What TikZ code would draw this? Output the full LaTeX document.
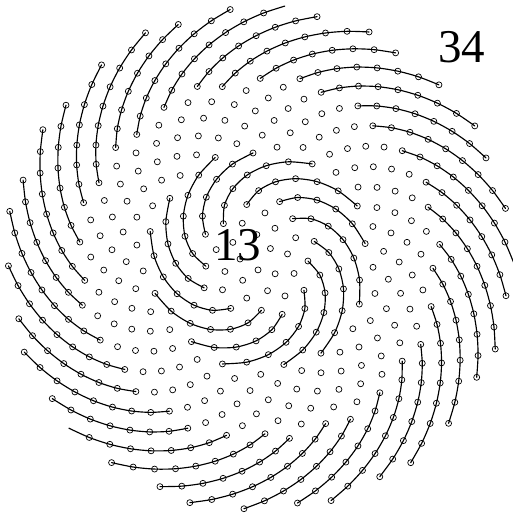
\documentclass[tikz,border=0pt]{standalone}
\usepackage{fontspec}
\setmainfont{Liberation Serif}
\usetikzlibrary{positioning}
\tikzset{
  seed/.style={circle, draw=black, line width=0.7pt, inner sep=0pt, minimum size=6pt},
  parastichy/.style={draw=black, line width=1.15pt, line cap=round},
  countlabel/.style={inner sep=0pt, font=\fontsize{47}{50}\selectfont},
}
% spiral parameters
\def\spc{10.95}     % spacing factor
\def\sphi{127.5}    % start angle
\def\nseeds{538}
\def\ncurve{541}

\begin{document}
\begin{tikzpicture}[x=1pt,y=1pt]
  \useasboundingbox (-259,-256) rectangle (254,259);
  % seeds (the last few only carry the curves)
  \foreach \n in {1,...,\ncurve}{
    \edef\px{\fpeval{\spc*sqrt(\n)*cosd(\sphi+\n*137.5077640500378)}}
    \edef\py{\fpeval{\spc*sqrt(\n)*sind(\sphi+\n*137.5077640500378)}}
    \ifnum\n>\nseeds
      \coordinate (p\n) at (\px,\py);
    \else
      \node[seed] (p\n) at (\px,\py) {};
    \fi
  }
  % inner 13 spirals
  \foreach \k in {0,...,12}{
    \pgfmathtruncatemacro\sa{20+\k}
    \pgfmathtruncatemacro\sb{33+\k}
    \gdef\pts{}
    \foreach \j in {\sa,\sb,...,106}{\xdef\pts{\pts (p\j)}}
    \edef\cmd{\noexpand\draw[parastichy] plot[smooth] coordinates {\pts};}
    \cmd
  }
  % outer 34 spirals
  \foreach \k in {0,...,33}{
    \pgfmathtruncatemacro\sa{252+\k}
    \pgfmathtruncatemacro\sb{286+\k}
    \gdef\pts{}
    \foreach \j in {\sa,\sb,...,\ncurve}{\xdef\pts{\pts (p\j)}}
    \edef\cmd{\noexpand\draw[parastichy] plot[smooth] coordinates {\pts};}
    \cmd
  }
  \node[countlabel] (lab13) at (-21,14) {13};
  \node[countlabel] (lab34) at (203,212) {34};
\end{tikzpicture}
\end{document}
